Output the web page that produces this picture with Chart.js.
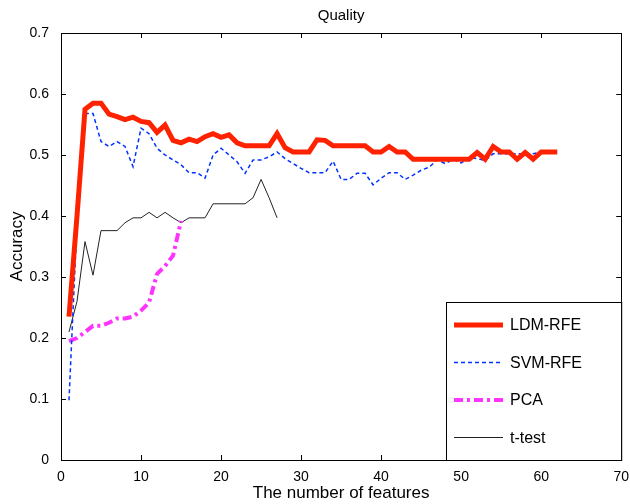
<!DOCTYPE html>
<html>
<head>
<meta charset="utf-8">
<script src="https://cdn.jsdelivr.net/npm/chart.js@4.4.1/dist/chart.umd.min.js"></script>
<style>
  body { margin: 0; background: #fff; }
  #wrap { width: 630px; height: 504px; position: relative; }
</style>
</head>
<body>
<div id="wrap"><canvas id="chart"></canvas></div>
<script>
const featureCounts = [1, 2, 3, 4, 5, 6, 7, 8, 9, 10, 11, 12, 13, 14, 15, 16, 17, 18, 19, 20,
  21, 22, 23, 24, 25, 26, 27, 28, 29, 30, 31, 32, 33, 34, 35, 36, 37, 38, 39, 40,
  41, 42, 43, 44, 45, 46, 47, 48, 49, 50, 51, 52, 53, 54, 55, 56, 57, 58, 59, 60, 61, 62];

const ldmRfe = [0.235, 0.40, 0.575, 0.585, 0.585, 0.567, 0.563, 0.558, 0.562, 0.555,
  0.553, 0.537, 0.549, 0.524, 0.520, 0.526, 0.522, 0.530, 0.535, 0.529,
  0.533, 0.520, 0.515, 0.515, 0.515, 0.515, 0.535, 0.512, 0.505, 0.505,
  0.505, 0.525, 0.524, 0.515, 0.515, 0.515, 0.515, 0.515, 0.505, 0.505,
  0.514, 0.505, 0.505, 0.493, 0.493, 0.493, 0.493, 0.493, 0.493, 0.493,
  0.493, 0.504, 0.493, 0.514, 0.505, 0.505, 0.493, 0.504, 0.493, 0.505,
  0.505, 0.505];

const svmRfe = [0.098, 0.39, 0.568, 0.568, 0.522, 0.514, 0.522, 0.514, 0.481, 0.544,
  0.535, 0.511, 0.500, 0.492, 0.484, 0.471, 0.471, 0.462, 0.500, 0.511,
  0.500, 0.489, 0.470, 0.492, 0.492, 0.497, 0.505, 0.494, 0.486, 0.478,
  0.471, 0.471, 0.471, 0.490, 0.460, 0.460, 0.470, 0.470, 0.451, 0.462,
  0.471, 0.471, 0.460, 0.467, 0.475, 0.480, 0.492, 0.486, 0.493, 0.487,
  0.496, 0.494, 0.491, 0.502, 0.502, 0.502, 0.502, 0.502, 0.502, 0.505,
  0.505, 0.505];

const pca = [0.195, 0.200, 0.210, 0.220, 0.220, 0.225, 0.232, 0.232, 0.235, 0.245,
  0.258, 0.305, 0.318, 0.335, 0.392];

const tTest = [0.210, 0.260, 0.358, 0.303, 0.376, 0.376, 0.376, 0.389, 0.397, 0.397,
  0.406, 0.397, 0.406, 0.397, 0.389, 0.397, 0.397, 0.397, 0.420, 0.420,
  0.420, 0.420, 0.420, 0.430, 0.460, 0.430, 0.397];

const xTicks = [0, 10, 20, 30, 40, 50, 60, 70];
const yTicks = [0, 0.1, 0.2, 0.3, 0.4, 0.5, 0.6, 0.7];

const FONT = "Arial, 'Liberation Sans', sans-serif";

function toPoints(values) {
  return values.map((v, i) => ({ x: featureCounts[i], y: v }));
}

const series = [
  { label: "LDM-RFE", data: ldmRfe, color: "#ff2200", width: 5, dash: [] },
  { label: "SVM-RFE", data: svmRfe, color: "#0033ff", width: 1.5, dash: [4, 3] },
  { label: "PCA", data: pca, color: "#ff33ff", width: 4, dash: [9, 4, 3, 4] },
  { label: "t-test", data: tTest, color: "#222222", width: 1, dash: [] }
];

// moldura, ticks para dentro, título e legenda no estilo MATLAB
const matlabFrame = {
  id: "matlabFrame",
  afterDraw(chart) {
    const { ctx, chartArea: a, scales } = chart;
    ctx.save();
    ctx.strokeStyle = "#000";
    ctx.lineWidth = 1;
    ctx.strokeRect(Math.round(a.left) + 0.5, Math.round(a.top) + 0.5,
      Math.round(a.right - a.left), Math.round(a.bottom - a.top));

    ctx.beginPath();
    xTicks.forEach(t => {
      const px = Math.round(scales.x.getPixelForValue(t)) + 0.5;
      ctx.moveTo(px, a.bottom); ctx.lineTo(px, a.bottom - 5);
      ctx.moveTo(px, a.top); ctx.lineTo(px, a.top + 5);
    });
    yTicks.forEach(t => {
      const py = Math.round(scales.y.getPixelForValue(t)) + 0.5;
      ctx.moveTo(a.left, py); ctx.lineTo(a.left + 5, py);
      ctx.moveTo(a.right, py); ctx.lineTo(a.right - 5, py);
    });
    ctx.stroke();

    ctx.fillStyle = "#000";
    ctx.font = `15px ${FONT}`;
    ctx.textAlign = "center";
    ctx.textBaseline = "middle";
    ctx.fillText("Quality", (a.left + a.right) / 2, 16);

    // legenda
    const lx = 446, ly = 302, lw = a.right - 446, lh = a.bottom - 302;
    ctx.fillStyle = "#fff";
    ctx.fillRect(lx, ly, lw, lh);
    ctx.strokeRect(lx + 0.5, ly + 0.5, lw, lh);
    ctx.font = `16px ${FONT}`;
    ctx.textAlign = "left";
    series.forEach((s, i) => {
      const y = 325 + i * 37.5;
      ctx.beginPath();
      ctx.strokeStyle = s.color;
      ctx.lineWidth = s.width;
      ctx.setLineDash(s.dash);
      ctx.moveTo(454, y);
      ctx.lineTo(503, y);
      ctx.stroke();
      ctx.setLineDash([]);
      ctx.fillStyle = "#000";
      ctx.fillText(s.label, 510, y + 1);
    });
    ctx.restore();
  }
};

new Chart(document.getElementById("chart"), {
  type: "line",
  data: {
    datasets: series.map(s => ({
      label: s.label,
      data: toPoints(s.data),
      borderColor: s.color,
      backgroundColor: s.color,
      borderWidth: s.width,
      borderDash: s.dash,
      pointRadius: 0,
      tension: 0,
      fill: false
    }))
  },
  options: {
    responsive: true,
    maintainAspectRatio: false,
    animation: false,
    layout: { padding: { top: 33, right: 8, left: 0, bottom: 0 } },
    plugins: {
      legend: { display: false },
      title: { display: false },
      tooltip: { enabled: false }
    },
    scales: {
      x: {
        type: "linear",
        min: 0,
        max: 70,
        afterBuildTicks: scale => { scale.ticks = xTicks.map(v => ({ value: v })); },
        afterFit: scale => { scale.height = 44; },
        grid: { display: false },
        border: { display: false },
        ticks: {
          color: "#000",
          font: { family: FONT, size: 14 },
          padding: 1,
          maxRotation: 0,
          callback: v => String(v)
        },
        title: {
          display: true,
          text: "The number of features",
          color: "#000",
          font: { family: FONT, size: 17 },
          padding: { top: 0, bottom: 0 }
        }
      },
      y: {
        min: 0,
        max: 0.7,
        afterBuildTicks: scale => { scale.ticks = yTicks.map(v => ({ value: v })); },
        afterFit: scale => { scale.width = 61; },
        grid: { display: false },
        border: { display: false },
        ticks: {
          color: "#000",
          font: { family: FONT, size: 14 },
          padding: 4,
          callback: v => (v === 0 ? "0" : v.toFixed(1))
        },
        title: {
          display: true,
          text: "Accuracy",
          color: "#000",
          font: { family: FONT, size: 17 },
          padding: { top: 7, bottom: 0 }
        }
      }
    }
  },
  plugins: [matlabFrame]
});
</script>
</body>
</html>
